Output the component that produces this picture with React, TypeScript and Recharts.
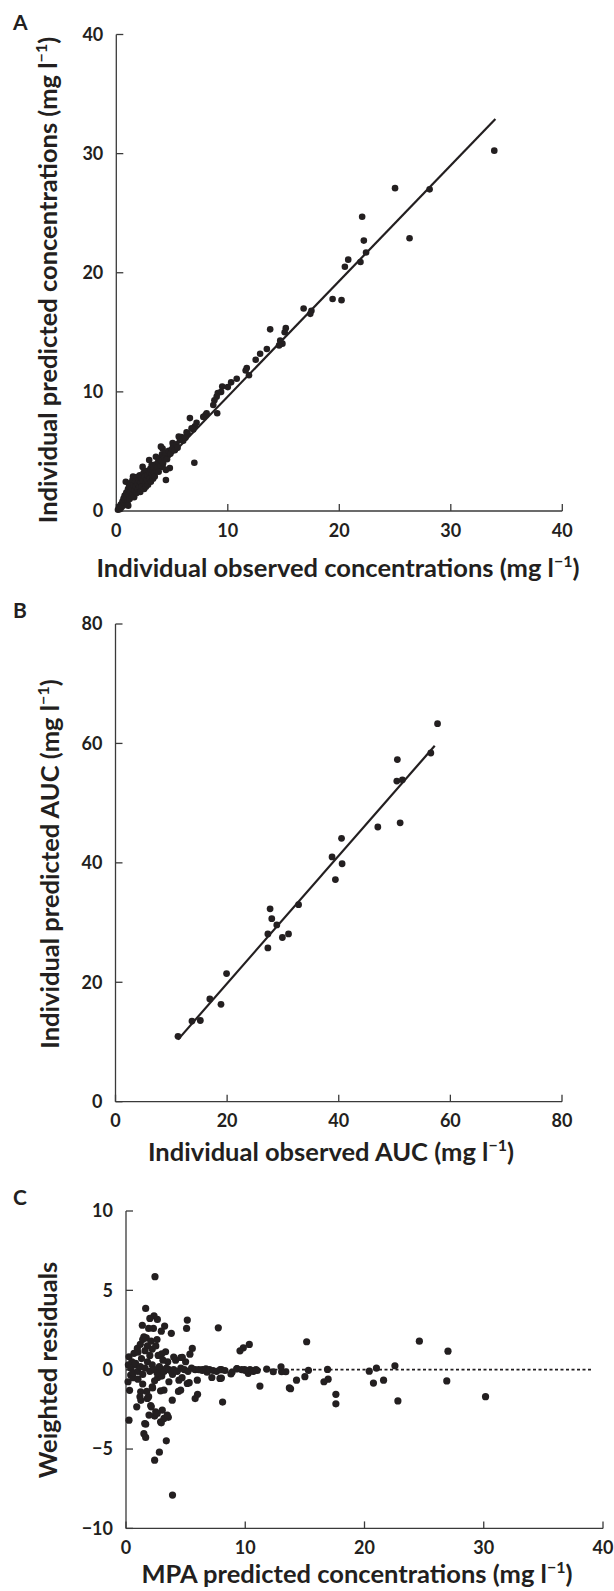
import React from 'react';
import { ScatterChart, Scatter, XAxis, YAxis, ReferenceLine } from 'recharts';

const INK = '#231f20';
const AXIS = '#3a3a3a';
const FONT = 'Lato, "Open Sans", sans-serif';

// A: individual observed (x) vs individual predicted (y) concentrations, mg/l
const panelA: [number, number][] = [
  [33.9, 30.25], [28.1, 27.0], [26.3, 22.9], [25.0, 27.1],
  [22.4, 21.7], [22.2, 22.7], [22.05, 24.7], [21.9, 20.9], [20.8, 21.1], [20.5, 20.5], [20.2, 17.7], [19.4, 17.8],
  [17.5, 16.8], [17.4, 16.55], [16.8, 17.0],
  [15.2, 15.35], [15.1, 15.0], [14.9, 14.05], [14.7, 14.3], [14.6, 13.9], [13.8, 15.25], [13.5, 13.6], [12.9, 13.2], [12.5, 12.7],
  [11.9, 11.4], [11.7, 12.0], [11.6, 11.8], [10.8, 11.1], [10.3, 10.8], [10.0, 10.4], [9.5, 10.45], [9.4, 10.0], [9.1, 9.9],
  [9.0, 9.6], [8.8, 9.3], [9.05, 8.2], [8.7, 8.9], [8.1, 8.2], [8.0, 8.05], [7.8, 7.9], [6.6, 7.8], [7.2, 7.4], [7.05, 7.1],
  [6.75, 6.95], [6.4, 6.5], [6.3, 6.6], [5.85, 6.2], [5.6, 6.25], [5.7, 5.95], [5.05, 5.7], [5.1, 5.5], [4.15, 5.25], [4.0, 5.4],
  [4.65, 4.7], [7.0, 4.05], [4.8, 3.6], [4.45, 3.45], [4.45, 2.6], [4.15, 3.7],
  [0.15, 0.1], [0.25, 0.35], [0.3, 0.15], [0.4, 0.55], [0.45, 0.3], [0.55, 0.8], [0.6, 0.45], [0.65, 1.05], [0.7, 0.7],
  [0.75, 1.3], [0.8, 0.9], [0.85, 2.45], [0.9, 1.55], [0.95, 1.15], [1.0, 0.75], [1.05, 1.85], [1.07, 0.45], [1.1, 1.35],
  [1.15, 2.1], [1.2, 1.0], [1.25, 1.6], [1.3, 2.35], [1.35, 1.25], [1.4, 1.9], [1.45, 2.6], [1.5, 1.45], [1.5, 2.9],
  [1.55, 2.15], [1.6, 1.15], [1.65, 1.75], [1.7, 2.5], [1.75, 2.05], [1.8, 1.5], [1.85, 2.85], [1.9, 2.3], [1.95, 1.8],
  [2.0, 2.6], [2.05, 2.05], [2.1, 3.0], [2.15, 1.6], [2.2, 2.4], [2.25, 2.8], [2.3, 2.05], [2.36, 3.7], [2.4, 2.55],
  [2.45, 3.2], [2.5, 1.85], [2.55, 2.9], [2.6, 2.3], [2.66, 2.04], [2.7, 3.35], [2.75, 2.65], [2.8, 3.0], [2.85, 2.2],
  [2.95, 4.28], [2.95, 3.3], [3.0, 2.75], [3.05, 3.55], [3.1, 2.45], [3.17, 3.86], [3.2, 3.1], [3.25, 3.4], [3.3, 2.7],
  [3.35, 3.7], [3.4, 3.17], [3.45, 2.9], [3.5, 3.9], [3.55, 4.56], [3.6, 3.35], [3.7, 3.65], [3.75, 4.1], [3.8, 3.3],
  [3.9, 4.4], [3.95, 3.85], [4.05, 4.2], [4.1, 4.75], [4.2, 4.0], [4.3, 4.5], [4.4, 4.9], [4.55, 4.35], [4.7, 5.05],
  [4.85, 4.8], [5.0, 5.2], [5.25, 5.1], [5.4, 5.6], [5.5, 5.3], [6.0, 5.9], [6.2, 6.15], [6.9, 6.85],
];
const fitA = [{ x: 0.2, y: 0.1 }, { x: 34, y: 32.9 }];
const ticksA = [0, 10, 20, 30, 40];

// B: individual observed AUC (x) vs individual predicted AUC (y)
const panelB: [number, number][] = [
  [11.2, 10.95], [13.7, 13.5], [15.2, 13.6], [16.9, 17.2], [18.9, 16.3], [19.9, 21.45],
  [27.3, 25.75], [27.3, 28.1], [27.7, 32.3], [28.0, 30.65], [28.9, 29.6], [29.9, 27.5], [31.0, 28.1], [32.8, 33.0],
  [38.8, 41.0], [39.4, 37.2], [40.5, 44.1], [40.6, 39.85], [47.0, 46.0],
  [50.5, 57.3], [50.4, 53.7], [51.4, 53.9], [51.0, 46.7], [56.5, 58.4], [57.7, 63.3],
];
const fitB = [{ x: 11.2, y: 10.4 }, { x: 57.2, y: 59.6 }];
const ticksB = [0, 20, 40, 60, 80];

// C: MPA predicted concentrations (x) vs weighted residuals (y)
const panelC: [number, number][] = [
  [30.15, -1.7], [27.0, 1.17], [26.9, -0.71], [24.6, 1.8], [22.55, 0.25], [22.8, -1.97], [21.6, -0.66], [21.0, 0.1],
  [20.75, -0.84], [20.4, -0.09], [17.6, -1.55], [17.6, -2.15], [16.95, -0.6], [16.6, -0.76], [16.9, 0.02], [15.15, 1.76],
  [15.3, -0.04], [15.0, -0.44], [14.3, -0.66], [13.8, -1.2], [13.7, -1.15], [13.4, -0.13], [13.05, -0.13], [13.0, 0.18],
  [12.35, -0.13], [11.8, 0.04], [11.23, -1.03],
  [10.34, 1.59], [9.84, 1.38], [9.56, 1.19], [10.25, -0.23], [10.4, 0.0], [10.9, 0.0], [10.6, -0.08], [9.95, 0.0],
  [9.3, 0.07], [8.8, -0.27], [8.1, -2.04], [8.0, -0.53], [7.74, 2.64], [7.9, 0.0], [7.88, -0.55], [7.2, -0.49],
  [6.8, -0.16], [6.4, 0.0],
  [6.0, -1.55], [5.8, -1.82], [5.98, -0.66], [5.56, 1.34], [5.36, 0.98], [5.14, 3.13], [5.08, 2.6], [5.3, -0.82],
  [5.0, 0.5], [4.72, 0.78], [4.6, 0.77], [4.4, -1.37], [4.44, -0.66], [4.58, -1.29], [4.16, 0.6],
  [3.9, -7.9], [3.8, 2.29], [3.88, -1.92], [3.38, -4.48], [3.55, -3.0], [3.24, 2.75], [2.8, -5.2], [2.96, 2.43],
  [2.63, 3.17], [2.4, -5.7], [2.43, 5.86], [2.35, 3.4], [2.0, 3.23], [1.65, 3.86], [1.37, 2.8], [1.5, -4.03],
  [1.65, -4.27], [1.65, -3.43], [0.9, -2.34], [0.25, -3.18], [0.17, -0.76], [0.39, -0.34],
  [2.9, -3.28], [2.4, -2.92], [2.49, -2.65], [3.04, -2.55], [3.18, -3.07], [3.46, -2.86], [2.62, -2.76], [1.93, -2.86],
  [2.12, -2.34], [1.79, -1.81], [1.23, -1.39], [1.17, -1.71], [1.57, -3.39], [2.96, -3.35], [3.18, -1.29], [2.2, -1.08],
  [3.6, -0.76], [2.07, -2.26], [1.9, -1.7], [1.74, -1.37], [1.25, -1.93], [2.66, -0.49], [2.9, -1.33], [2.23, -1.15],
  [3.32, 1.13], [0.95, 1.34], [0.67, 1.03], [0.25, 0.81], [5.14, -0.87], [1.5, 2.07], [1.2, 1.6], [1.4, 1.9],
  [1.7, 2.0], [1.8, 1.5], [2.1, 1.8], [2.2, 1.3], [1.0, 1.1], [1.6, 1.2], [2.5, 1.5], [2.7, 0.9], [3.0, 1.0],
  [2.3, 2.6], [1.9, 2.6], [2.6, 1.9], [3.5, 0.5], [4.0, 0.8], [3.1, 0.6], [0.5, 0.5], [0.8, 0.3], [1.3, 0.7],
  [2.0, 0.9], [0.6, -0.5], [1.0, -0.6], [1.4, -0.9], [2.4, -0.7], [3.0, -0.4], [3.9, -0.3], [4.7, -0.5], [0.3, -1.3],
  [0.2, 0.3], [0.4, 0.1], [0.6, -0.2], [0.8, 0.4], [1.0, -0.1], [1.2, 0.2], [1.4, -0.3], [1.6, 0.1], [1.8, 0.5],
  [2.0, -0.1], [2.2, 0.3], [2.4, 0.0], [2.6, -0.2], [2.8, 0.2], [3.0, 0.0], [3.2, -0.1], [3.4, 0.1], [3.6, 0.0],
  [3.8, -0.1], [4.0, 0.0], [4.3, -0.1], [4.6, 0.1], [4.9, 0.0], [5.2, -0.1], [5.5, 0.1], [5.8, 0.0], [6.1, 0.0],
  [6.4, -0.05], [6.7, 0.05], [7.0, 0.0], [7.3, -0.05], [7.6, -0.1], [8.0, 0.0], [8.3, -0.05], [8.9, -0.15],
  [9.3, 0.05], [9.7, 0.0], [10.0, -0.05], [10.7, -0.1], [11.0, -0.05],
];
const zeroLineC = [{ x: 0, y: 0 }, { x: 39.1, y: 0 }];
const ticksCX = [0, 10, 20, 30, 40];
const ticksCY = [-10, -5, 0, 5, 10];

const toPoints = (rows: [number, number][]) => rows.map(([x, y]) => ({ x, y }));
const fmt = (v: number) => (v < 0 ? `\u2212${-v}` : `${v}`);

const tickStyle = { fill: INK, fontSize: 18, fontWeight: 700, fontFamily: FONT };

const Dot = (r: number) => (p: any) => <circle cx={p.cx} cy={p.cy} r={r} fill={INK} />;

interface PanelProps {
  top: number;
  height: number;
  margin: { top: number; right: number; bottom: number; left: number };
  data: [number, number][];
  xTicks: number[];
  yTicks: number[];
  line: { x: number; y: number }[];
  dashed?: boolean;
  r: number;
}

const Panel: React.FC<PanelProps> = ({ top, height, margin, data, xTicks, yTicks, line, dashed, r }) => (
  <div style={{ position: 'absolute', left: 0, top }}>
    <ScatterChart width={614} height={height} margin={margin}>
      <XAxis
        type="number"
        dataKey="x"
        domain={[xTicks[0], xTicks[xTicks.length - 1]]}
        ticks={xTicks}
        interval={0}
        height={40}
        tickSize={-7}
        tickMargin={20}
        tick={tickStyle}
        tickFormatter={fmt}
        axisLine={{ stroke: AXIS, strokeWidth: 1.3 }}
        tickLine={{ stroke: AXIS, strokeWidth: 1.3 }}
      />
      <YAxis
        type="number"
        dataKey="y"
        domain={[yTicks[0], yTicks[yTicks.length - 1]]}
        ticks={yTicks}
        interval={0}
        width={60}
        tickSize={-7}
        tickMargin={20}
        tick={tickStyle}
        tickFormatter={fmt}
        axisLine={{ stroke: AXIS, strokeWidth: 1.3 }}
        tickLine={{ stroke: AXIS, strokeWidth: 1.3 }}
      />
      <ReferenceLine
        segment={line}
        stroke={INK}
        strokeWidth={dashed ? 1.8 : 2.2}
        strokeDasharray={dashed ? '3 2.5' : undefined}
      />
      <Scatter data={toPoints(data)} shape={Dot(r)} isAnimationActive={false} />
    </ScatterChart>
  </div>
);

const Unit = () => (
  <>
    (mg l<tspan dy={-10} fontSize={16}>{'\u22121'}</tspan>
    <tspan dy={10}>)</tspan>
  </>
);

const titleStyle = { fill: INK, fontSize: 25.5, fontWeight: 700, fontFamily: FONT };

export default function App() {
  return (
    <div style={{ position: 'absolute', left: 0, top: 0, width: 614, height: 1591, background: '#fff', overflow: 'hidden' }}>
      <Panel
        top={0}
        height={560}
        margin={{ top: 34.5, right: 51.7, bottom: 9, left: 56.3 }}
        data={panelA}
        xTicks={ticksA}
        yTicks={ticksA}
        line={fitA}
        r={3.3}
      />
      <Panel
        top={600}
        height={560}
        margin={{ top: 24, right: 52, bottom: 18.3, left: 55.5 }}
        data={panelB}
        xTicks={ticksB}
        yTicks={ticksB}
        line={fitB}
        r={3.4}
      />
      <Panel
        top={1180}
        height={411}
        margin={{ top: 31, right: 11, bottom: 22.6, left: 66 }}
        data={panelC}
        xTicks={ticksCX}
        yTicks={ticksCY}
        line={zeroLineC}
        dashed
        r={3.6}
      />
      <svg width={614} height={1591} style={{ position: 'absolute', left: 0, top: 0, pointerEvents: 'none' }}>
        <g style={{ fontFamily: FONT, fontWeight: 700 }} fill={INK}>
          <text x={13} y={30} fontSize={21}>A</text>
          <text x={13} y={618} fontSize={21}>B</text>
          <text x={13} y={1205} fontSize={21}>C</text>
        </g>
        <text x={338} y={577} textAnchor="middle" {...titleStyle}>
          Individual observed concentrations <Unit />
        </text>
        <text x={57} y={280} textAnchor="middle" transform="rotate(-90 57 280)" {...titleStyle}>
          Individual predicted concentrations <Unit />
        </text>
        <text x={331} y={1161} textAnchor="middle" {...titleStyle}>
          Individual observed AUC <Unit />
        </text>
        <text x={59} y={864} textAnchor="middle" transform="rotate(-90 59 864)" {...titleStyle}>
          Individual predicted AUC <Unit />
        </text>
        <text x={357} y={1583} textAnchor="middle" {...titleStyle}>
          MPA predicted concentrations <Unit />
        </text>
        <text x={57} y={1370} textAnchor="middle" transform="rotate(-90 57 1370)" {...titleStyle}>
          Weighted residuals
        </text>
      </svg>
    </div>
  );
}
